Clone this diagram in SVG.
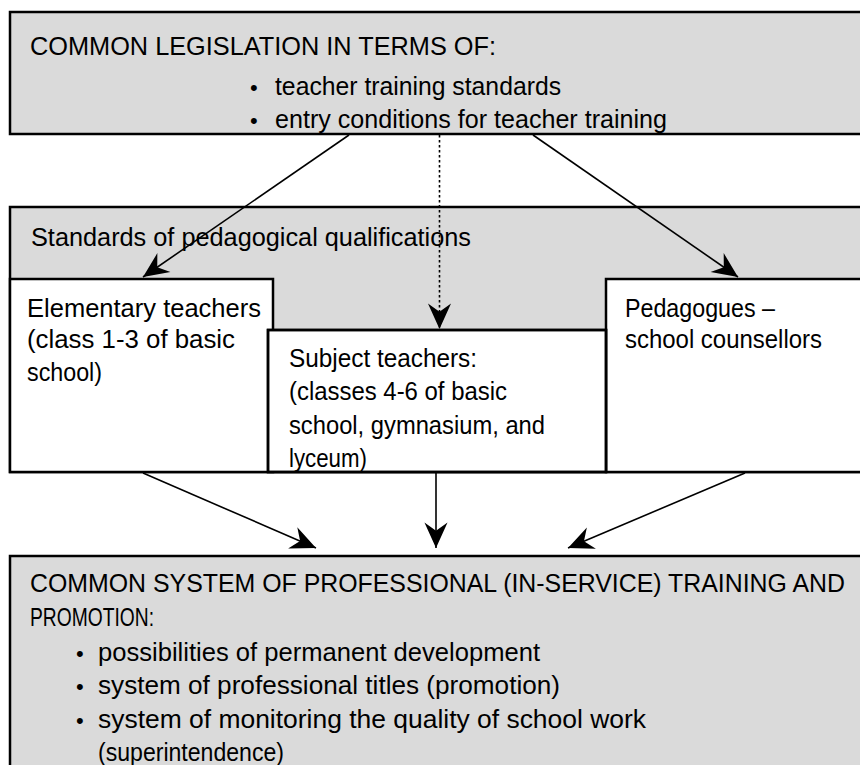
<svg xmlns="http://www.w3.org/2000/svg" width="860" height="765" viewBox="0 0 860 765">
<style>
.gray{fill:#dadada;stroke:#000;stroke-width:2.5}
.white{fill:#fff;stroke:#000;stroke-width:2.5}
text{font-family:"Liberation Sans",Arial,sans-serif;fill:#000;font-size:25px}
.cap{font-size:25px}
.bul{font-size:22px}
.conn{stroke:#000;stroke-width:1.6;fill:none}
</style>
<defs>
<marker id="ah" markerUnits="userSpaceOnUse" markerWidth="30" markerHeight="30" viewBox="-24 -12 26 24" refX="0" refY="0" orient="auto">
<path d="M0,0 L-22,-10 L-15,0 L-22,10 Z" fill="#000"/>
</marker>
<clipPath id="subclip"><rect x="268" y="330" width="338" height="141"/></clipPath>
</defs>
<g id="legislation">
<rect class="gray" x="10" y="12" width="870" height="122"/>
<text class="cap" x="30" y="55" textLength="466" lengthAdjust="spacingAndGlyphs">COMMON LEGISLATION IN TERMS OF:</text>
<text class="bul" x="250" y="95">•</text>
<text x="275" y="95" textLength="286" lengthAdjust="spacingAndGlyphs">teacher training standards</text>
<text class="bul" x="250" y="128">•</text>
<text x="275" y="128" textLength="392" lengthAdjust="spacingAndGlyphs">entry conditions for teacher training</text>
</g>
<g id="standards">
<rect class="gray" x="10" y="207" width="870" height="265"/>
<text x="31" y="246" textLength="440" lengthAdjust="spacingAndGlyphs">Standards of pedagogical qualifications</text>
</g>
<g id="elementary">
<rect class="white" x="10" y="279" width="263" height="193"/>
<text x="27" y="317" textLength="234" lengthAdjust="spacingAndGlyphs">Elementary teachers</text>
<text x="27" y="348" textLength="208" lengthAdjust="spacingAndGlyphs">(class 1-3 of basic</text>
<text x="27" y="381" textLength="75" lengthAdjust="spacingAndGlyphs">school)</text>
</g>
<g id="pedagogues">
<rect class="white" x="606" y="279" width="274" height="193"/>
<text x="625" y="317" textLength="150" lengthAdjust="spacingAndGlyphs">Pedagogues –</text>
<text x="625" y="348" textLength="197" lengthAdjust="spacingAndGlyphs">school counsellors</text>
</g>
<g id="subject">
<rect class="white" x="268" y="330" width="338" height="142"/>
<g clip-path="url(#subclip)">
<text x="289" y="367" textLength="188" lengthAdjust="spacingAndGlyphs">Subject teachers:</text>
<text x="289" y="400" textLength="218" lengthAdjust="spacingAndGlyphs">(classes 4-6 of basic</text>
<text x="289" y="434" textLength="256" lengthAdjust="spacingAndGlyphs">school, gymnasium, and</text>
<text x="289" y="467" textLength="78" lengthAdjust="spacingAndGlyphs">lyceum)</text>
</g>
<rect x="268" y="330" width="338" height="142" fill="none" stroke="#000" stroke-width="2.5"/>
</g>
<g id="system">
<rect class="gray" x="10" y="556" width="870" height="230"/>
<text class="cap" x="30" y="592" textLength="815" lengthAdjust="spacingAndGlyphs">COMMON SYSTEM OF PROFESSIONAL (IN-SERVICE) TRAINING AND</text>
<text class="cap" x="30" y="626" textLength="124" lengthAdjust="spacingAndGlyphs">PROMOTION:</text>
<text class="bul" x="76" y="661">•</text>
<text x="98" y="661" textLength="442" lengthAdjust="spacingAndGlyphs">possibilities of permanent development</text>
<text class="bul" x="76" y="694">•</text>
<text x="98" y="694" textLength="462" lengthAdjust="spacingAndGlyphs">system of professional titles (promotion)</text>
<text class="bul" x="76" y="728">•</text>
<text x="98" y="728" textLength="548" lengthAdjust="spacingAndGlyphs">system of monitoring the quality of school work</text>
<text x="98" y="761" textLength="186" lengthAdjust="spacingAndGlyphs">(superintendence)</text>
</g>
<g id="connectors">
<line class="conn" x1="349" y1="135" x2="143" y2="277" marker-end="url(#ah)"/>
<line class="conn" x1="533" y1="135" x2="738" y2="277" marker-end="url(#ah)"/>
<line class="conn" x1="439.5" y1="135" x2="439.5" y2="329" stroke-width="3" stroke-dasharray="2.5 2.5" marker-end="url(#ah)"/>
<line class="conn" x1="143" y1="473" x2="316" y2="548" marker-end="url(#ah)"/>
<line class="conn" x1="436" y1="473" x2="436" y2="548" stroke-width="3" marker-end="url(#ah)"/>
<line class="conn" x1="745" y1="473" x2="568" y2="548" marker-end="url(#ah)"/>
</g>
</svg>
